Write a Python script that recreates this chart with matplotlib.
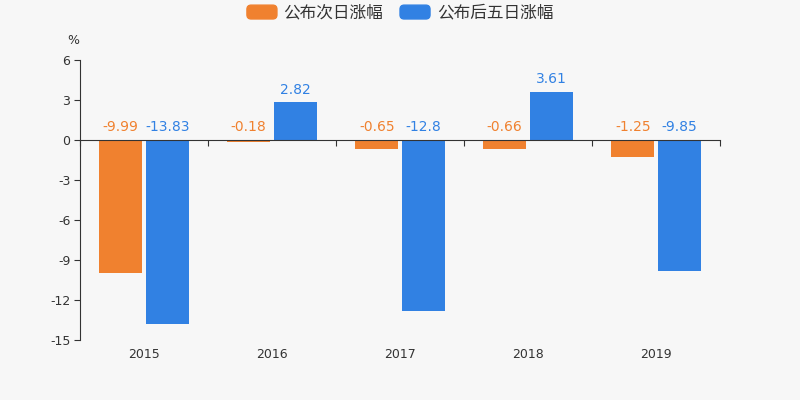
import matplotlib.pyplot as plt
import matplotlib.transforms as mtransforms
from matplotlib.patches import FancyBboxPatch, Patch
from matplotlib.legend_handler import HandlerPatch
import numpy as np

plt.rcParams['font.family'] = ['DejaVu Sans', 'Noto Sans CJK SC']
plt.rcParams['axes.unicode_minus'] = False

years = ['2015', '2016', '2017', '2018', '2019']
next_day = [-9.99, -0.18, -0.65, -0.66, -1.25]
five_day = [-13.83, 2.82, -12.8, 3.61, -9.85]
series_names = ['公布次日涨幅', '公布后五日涨幅']

orange = '#f0812f'
blue = '#3181e3'
bg = '#f7f7f7'

fig = plt.figure(figsize=(8, 4), dpi=100, facecolor=bg)
ax = fig.add_axes([0.1, 0.15, 0.8, 0.7], facecolor=bg)

x = np.arange(len(years))
w = 0.335
off = 0.182
b1 = ax.bar(x - off, next_day, w, color=orange)
b2 = ax.bar(x + off, five_day, w, color=blue)

for bars, vals, c in ((b1, next_day, orange), (b2, five_day, blue)):
    for bar, v in zip(bars, vals):
        top = max(v, 0)
        ax.annotate(f'{v:g}', (bar.get_x() + bar.get_width() / 2, top),
                    xytext=(0, 4), textcoords='offset points',
                    ha='center', va='bottom', color=c, fontsize=10)

ax.set_xlim(-0.5, len(years) - 0.5)
ax.set_ylim(-15, 6)
ax.set_yticks(np.arange(-15, 7, 3))
ax.tick_params(axis='y', length=4, labelsize=9, colors='#333333', pad=3)

ax.spines['top'].set_visible(False)
ax.spines['right'].set_visible(False)
ax.spines['left'].set_color('#333333')
ax.spines['bottom'].set_position(('data', 0))
ax.spines['bottom'].set_color('#333333')
ax.set_xticks(np.arange(len(years) + 1) - 0.5)
ax.tick_params(axis='x', length=4, labelbottom=False, colors='#333333')

trans = mtransforms.blended_transform_factory(ax.transData, ax.transAxes)
for i, y in enumerate(years):
    ax.text(i, -0.05, y, transform=trans, ha='center', va='center',
            fontsize=9, color='#333333')

ax.text(-0.01, 1.07, '%', transform=ax.transAxes, ha='center', va='center',
        fontsize=9, color='#333333')


def rounded(legend, orig_handle, xdescent, ydescent, width, height, fontsize):
    return FancyBboxPatch((-xdescent, -ydescent), width, height,
                          boxstyle='round,pad=0,rounding_size=3')


handles = [Patch(color=orange), Patch(color=blue)]
leg = fig.legend(handles, series_names, loc='upper center',
                 bbox_to_anchor=(0.5, 1.028), ncol=2, frameon=False,
                 fontsize=12, handlelength=1.8, handleheight=0.9,
                 columnspacing=1.0, handletextpad=0.4,
                 handler_map={Patch: HandlerPatch(patch_func=rounded)})
for t in leg.get_texts():
    t.set_color('#333333')

fig.savefig('out.png', dpi=100, facecolor=bg)
